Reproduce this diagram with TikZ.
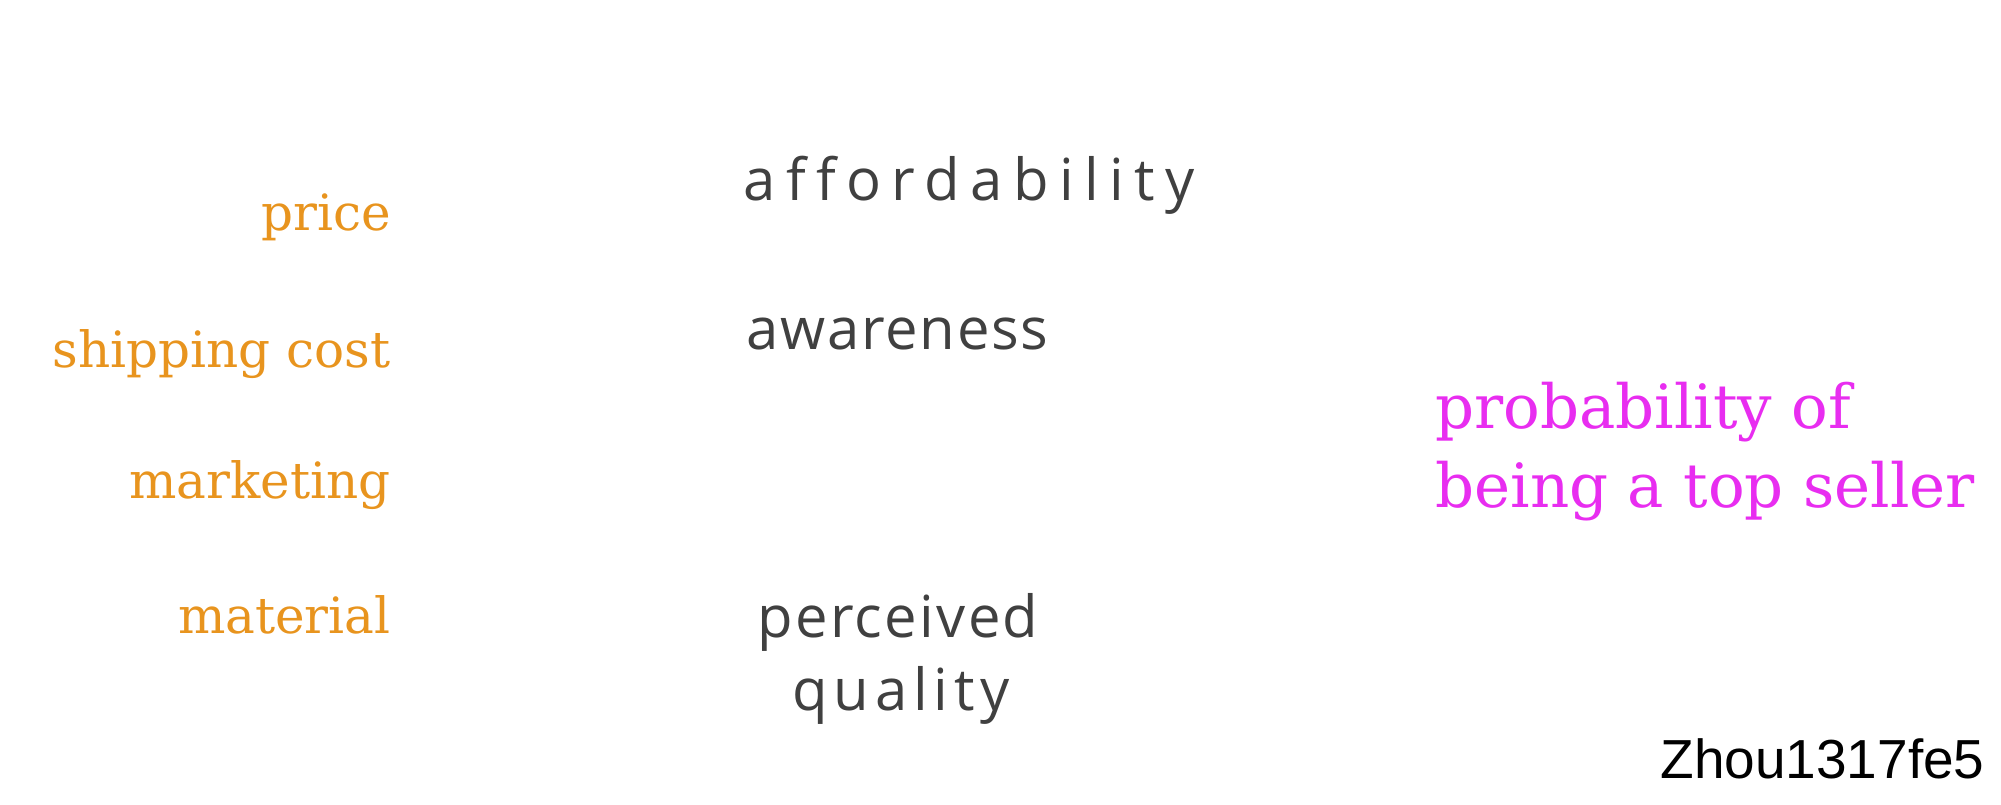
\documentclass[tikz,border=0pt]{standalone}
\usepackage{fontspec}
\usepackage{tikz}
\newfontfamily\handfont[Ligatures=NoCommon]{Open Sans}
\newfontfamily\markfont{Liberation Sans}
\newfontfamily\scholafont{DejaVu Serif}
\definecolor{inorange}{RGB}{232,148,30}
\definecolor{outmagenta}{RGB}{232,45,240}
\definecolor{pencil}{RGB}{64,64,64}
\newcommand{\spaced}[1]{\addfontfeatures{LetterSpace=#1}}
\tikzset{
  input/.style  = {anchor=base east,inner sep=0pt,inorange,font=\scholafont\fontsize{25}{30}\selectfont},
  hidden/.style = {anchor=base west,inner sep=0pt,pencil,font=\handfont\fontsize{29}{34}\selectfont},
  output/.style = {anchor=base west,inner sep=0pt,outmagenta,font=\scholafont\fontsize{30.5}{36}\selectfont}
}

\begin{document}
\begin{tikzpicture}[x=0.5pt,y=-0.5pt]
  \useasboundingbox (0,0) rectangle (2001,804);
  \node[input] (price)     at (391,230) {price};
  \node[input] (shipping)  at (391,367) {shipping cost};
  \node[input] (marketing) at (391,498) {marketing};
  \node[input] (material)  at (391,633) {material};
  \node[hidden] (afford)  at (743,200) {\spaced{18}affordability};
  \node[hidden] (aware)   at (746,349) {\spaced{3}awareness};
  \node[hidden] (perc)    at (757,637) {\spaced{4}perceived};
  \node[hidden] (qual)    at (792,710) {\spaced{10}quality};
  \node[output] (prob)    at (1435,428) {probability of};
  \node[output] (seller)  at (1435,507) {being a top seller};
  \node[anchor=base east,inner sep=0pt,font=\markfont\fontsize{27.5}{33}\selectfont] (tag) at (1985,778) {Zhou1317fe5};
\end{tikzpicture}
\end{document}
